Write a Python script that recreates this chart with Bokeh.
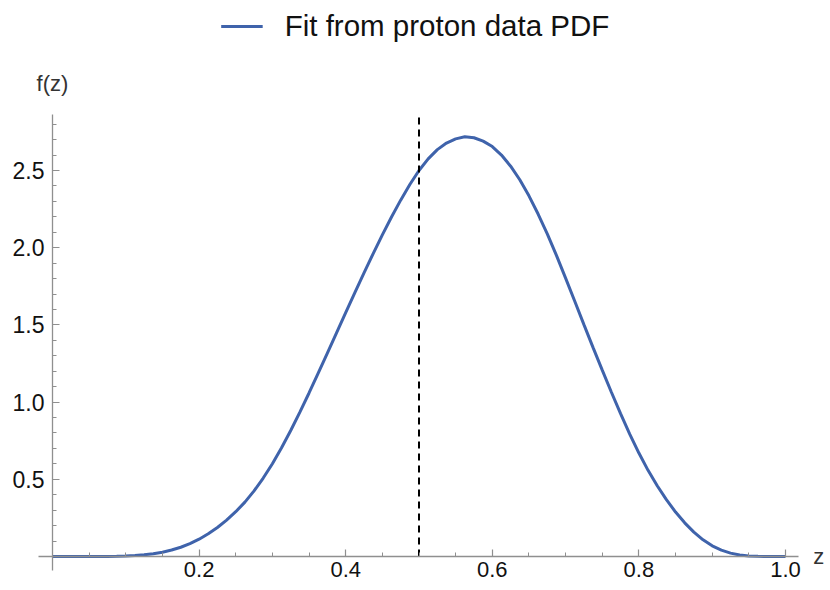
from bokeh.plotting import figure
from bokeh.models import (Range1d, LinearAxis, FixedTicker, Label, Legend,
                          LegendItem, PrintfTickFormatter)
from bokeh.embed import file_html
from bokeh.resources import INLINE

# ---- data ----
z_values = [0.0000, 0.0125, 0.0250, 0.0375, 0.0500, 0.0625, 0.0750, 0.0875,
            0.1000, 0.1125, 0.1250, 0.1375, 0.1500, 0.1625, 0.1750, 0.1875,
            0.2000, 0.2125, 0.2250, 0.2375, 0.2500, 0.2625, 0.2750, 0.2875,
            0.3000, 0.3125, 0.3250, 0.3375, 0.3500, 0.3625, 0.3750, 0.3875,
            0.4000, 0.4125, 0.4250, 0.4375, 0.4500, 0.4625, 0.4750, 0.4875,
            0.5000, 0.5125, 0.5250, 0.5375, 0.5500, 0.5625, 0.5750, 0.5875,
            0.6000, 0.6125, 0.6250, 0.6375, 0.6500, 0.6625, 0.6750, 0.6875,
            0.7000, 0.7125, 0.7250, 0.7375, 0.7500, 0.7625, 0.7750, 0.7875,
            0.8000, 0.8125, 0.8250, 0.8375, 0.8500, 0.8625, 0.8750, 0.8875,
            0.9000, 0.9125, 0.9250, 0.9375, 0.9500, 0.9625, 0.9750, 0.9875,
            1.0000]
f_values = [0.000, 0.000, 0.000, 0.000, 0.0001, 0.0003, 0.0007, 0.0015,
            0.003, 0.006, 0.011, 0.018, 0.028, 0.042, 0.060, 0.083,
            0.112, 0.147, 0.188, 0.236, 0.290, 0.352, 0.425, 0.508,
            0.601, 0.704, 0.816, 0.935, 1.059, 1.187, 1.317, 1.448,
            1.579, 1.709, 1.837, 1.962, 2.083, 2.199, 2.308, 2.409,
            2.500, 2.575, 2.635, 2.678, 2.705, 2.718, 2.712, 2.690,
            2.655, 2.600, 2.528, 2.440, 2.336, 2.218, 2.090, 1.950,
            1.803, 1.653, 1.502, 1.353, 1.207, 1.064, 0.925, 0.793,
            0.670, 0.558, 0.458, 0.368, 0.288, 0.218, 0.158, 0.108,
            0.069, 0.041, 0.022, 0.010, 0.004, 0.001, 0.000, 0.000,
            0.000]
series_name = "Fit from proton data PDF"

cut_z = [0.5, 0.5]
cut_f = [0.0, 2.85]

x_major_ticks = [0.2, 0.4, 0.6, 0.8, 1.0]
x_minor_ticks = [0.05, 0.10, 0.15, 0.25, 0.30, 0.35, 0.45, 0.50, 0.55,
                 0.65, 0.70, 0.75, 0.85, 0.90, 0.95]
y_major_ticks = [0.5, 1.0, 1.5, 2.0, 2.5]
y_minor_ticks = [0.1, 0.2, 0.3, 0.4, 0.6, 0.7, 0.8, 0.9, 1.1, 1.2, 1.3, 1.4,
                 1.6, 1.7, 1.8, 1.9, 2.1, 2.2, 2.3, 2.4, 2.6, 2.7, 2.8]
x_label = "z"
y_label = "f(z)"

FONT = "Liberation Sans"
AXIS_GRAY = "#8f8f8f"
CURVE = "#3f63ab"

p = figure(width=830, height=590,
           x_range=Range1d(-0.07094, 1.06139), y_range=Range1d(-0.2202, 3.6010),
           x_axis_location=None, y_axis_location=None,
           toolbar_location=None, output_backend="svg",
           min_border=0, outline_line_color=None,
           background_fill_color="white", border_fill_color="white")
p.grid.visible = False


def style_axis(ax):
    ax.axis_line_color = AXIS_GRAY
    ax.axis_line_width = 1.3
    ax.major_tick_line_color = AXIS_GRAY
    ax.minor_tick_line_color = AXIS_GRAY
    ax.major_tick_line_width = 1.2
    ax.minor_tick_line_width = 1.0
    ax.major_tick_in = 7
    ax.major_tick_out = 0
    ax.minor_tick_in = 4
    ax.minor_tick_out = 0
    ax.major_label_text_font = FONT
    ax.major_label_text_font_size = "23px"
    ax.major_label_text_color = "#111111"
    ax.formatter = PrintfTickFormatter(format="%.1f")


xaxis = LinearAxis(fixed_location=0, bounds=(-0.019, 1.018),
                   ticker=FixedTicker(ticks=x_major_ticks, minor_ticks=x_minor_ticks))
style_axis(xaxis)
xaxis.major_label_text_font_size = "22px"
xaxis.major_label_standoff = 5
p.add_layout(xaxis, "below")

yaxis = LinearAxis(fixed_location=0, bounds=(-0.0895, 2.864),
                   ticker=FixedTicker(ticks=y_major_ticks, minor_ticks=y_minor_ticks))
style_axis(yaxis)
yaxis.major_label_standoff = 8
p.add_layout(yaxis, "left")

r = p.line(z_values, f_values, line_color=CURVE, line_width=3)
p.line(cut_z, cut_f, line_color="black", line_width=2, line_dash="7 5")

legend = Legend(items=[LegendItem(label=series_name, renderers=[r])],
                location="top_center", orientation="horizontal",
                border_line_color=None, background_fill_alpha=0,
                label_text_font=FONT, label_text_font_size="29.5px",
                label_text_color="#111111",
                glyph_width=42, glyph_height=20, label_standoff=22,
                padding=0, margin=9)
p.add_layout(legend)

p.add_layout(Label(x=0, y=3.063, text=y_label, text_align="center",
                   text_baseline="middle", text_font=FONT,
                   text_font_size="22px", text_color="#333333"))
p.add_layout(Label(x=1.038, y=0, text=x_label, text_align="left",
                   text_baseline="middle", text_font=FONT,
                   text_font_size="22px", text_color="#333333"))

open("out.html", "w").write(file_html(p, INLINE))
